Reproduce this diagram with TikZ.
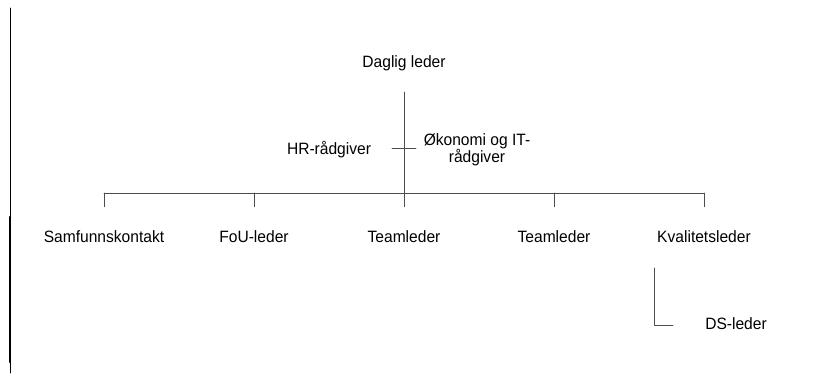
\documentclass[tikz,border=0pt]{standalone}
\usepackage{fontspec}
\setmainfont{Liberation Sans}[FakeStretch=0.95]
\usetikzlibrary{positioning}

\tikzset{lbl/.style={font=\fontsize{12.3}{12.8}\selectfont,inner sep=0pt,align=center},
  link/.style={draw=black!70,line width=0.7pt}}

\begin{document}
\begin{tikzpicture}[line cap=round,line join=round,x=0.75pt,y=-0.75pt]
\useasboundingbox (0,0) rectangle (815,383);
% margin rule on the left
\draw [line width=0.7pt] (10,8) -- (10,373);
\draw [line width=2pt] (10,217) -- (10,362);
% labels
\node[lbl] (daglig) at (404,63) {Daglig leder};
\node[lbl] (hr) at (329,150) {HR-rådgiver};
\node[lbl] (okit) at (477,150) {Økonomi og IT-\\rådgiver};
\node[lbl] (samf) at (104,237) {Samfunnskontakt};
\node[lbl] (fou) at (254,237) {FoU-leder};
\node[lbl] (team1) at (404,237) {Teamleder};
\node[lbl] (team2) at (554,237) {Teamleder};
\node[lbl] (kval) at (704,237) {Kvalitetsleder};
\node[lbl] (ds) at (736,324) {DS-leder};
% connection points
\coordinate (top) at (404,92);
\coordinate (bar) at (404,193);
\coordinate (staff-l) at (392,148);
\coordinate (staff-r) at (416,148);
\foreach \n in {samf,fou,team1,team2,kval}
  \coordinate (\n-in) at ([yshift=18pt]\n.north);
\coordinate (kval-out) at (654,268);
\coordinate (ds-in) at (673,325);
% lines
\draw[link] (top) -- (team1-in);
\draw[link] (staff-l) -- (staff-r);
\draw[link] (samf-in |- bar) -- (kval-in |- bar);
\foreach \n in {samf,fou,team2,kval}
  \draw[link] (\n-in |- bar) -- (\n-in);
\draw[link] (kval-out) |- (ds-in);
\end{tikzpicture}
\end{document}
